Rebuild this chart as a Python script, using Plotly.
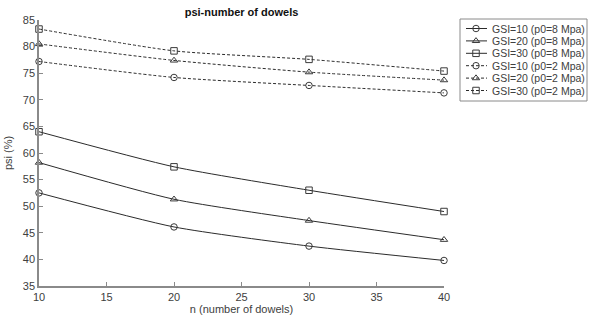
import plotly.graph_objects as go

# Number of dowels
n_dowels = [10, 20, 30, 40]

# psi (%) for each GSI at p0 = 8 MPa
psi_gsi10_p8 = [52.5, 46.1, 42.5, 39.8]
psi_gsi20_p8 = [58.2, 51.3, 47.3, 43.7]
psi_gsi30_p8 = [64.0, 57.4, 53.0, 49.0]

# psi (%) for each GSI at p0 = 2 MPa
psi_gsi10_p2 = [77.2, 74.2, 72.7, 71.3]
psi_gsi20_p2 = [80.5, 77.4, 75.2, 73.7]
psi_gsi30_p2 = [83.3, 79.2, 77.6, 75.4]

x_ticks = [10, 15, 20, 25, 30, 35, 40]
y_ticks = [35, 40, 45, 50, 55, 60, 65, 70, 75, 80, 85]

series_names = [
    "GSI=10 (p0=8 Mpa)", "GSI=20 (p0=8 Mpa)", "GSI=30 (p0=8 Mpa)",
    "GSI=10 (p0=2 Mpa)", "GSI=20 (p0=2 Mpa)", "GSI=30 (p0=2 Mpa)",
]
series_values = [psi_gsi10_p8, psi_gsi20_p8, psi_gsi30_p8,
                 psi_gsi10_p2, psi_gsi20_p2, psi_gsi30_p2]
series_symbols = ["circle-open", "triangle-up-open", "square-open"] * 2
series_dashes = ["solid"] * 3 + ["3px,2px"] * 3

font_family = "Liberation Sans, Arial, sans-serif"
axis_grey = "#8a8a8a"
text_grey = "#404040"
line_col = "#2b2b2b"
marker_col = "#3a3a3a"

W, H = 589, 322
L, R, T, B = 39, 0, 17, 36
plot_w = W - L - R
plot_h = H - T - B


def xdom(px):
    return (px - L) / plot_w


def ydom(py):
    return (H - B - py) / plot_h


fig = go.Figure()
for name, values, symbol, dash in zip(series_names, series_values, series_symbols, series_dashes):
    fig.add_trace(go.Scatter(
        x=n_dowels, y=values, name=name,
        mode="lines+markers",
        line=dict(color=line_col, width=1, dash=dash, shape="spline", smoothing=0.6),
        marker=dict(symbol=symbol, size=6.5, color=marker_col, line=dict(width=1)),
        cliponaxis=False, showlegend=False,
    ))

# Legend panel drawn on its own hidden axes (pixel units inside the panel)
box_x0, box_x1, box_y0, box_y1 = 460, 587, 19, 101
row_y0, row_step = 28.5, 12.4
for i, (name, symbol, dash) in enumerate(zip(series_names, series_symbols, series_dashes)):
    ry = row_y0 + i * row_step
    fig.add_trace(go.Scatter(
        x=[466, 476, 487], y=[ry, ry, ry],
        xaxis="x2", yaxis="y2", mode="lines+markers",
        line=dict(color=line_col, width=1, dash=dash),
        marker=dict(symbol=symbol, size=6.5, color=marker_col, line=dict(width=1),
                    opacity=[0, 1, 0]),
        showlegend=False, hoverinfo="skip", cliponaxis=False,
    ))
    fig.add_annotation(
        x=489.5, y=ry, xref="x2", yref="y2", text=name, showarrow=False,
        xanchor="left", yanchor="middle",
        font=dict(family=font_family, size=10.5, color=text_grey),
    )

fig.add_shape(
    type="rect", xref="paper", yref="paper",
    x0=xdom(box_x0), x1=xdom(box_x1), y0=ydom(box_y1), y1=ydom(box_y0),
    line=dict(color="#8a8a8a", width=1), fillcolor="rgba(0,0,0,0)", layer="below",
)

fig.update_layout(
    width=W, height=H,
    margin=dict(l=L, r=R, t=T, b=B, autoexpand=False),
    paper_bgcolor="white", plot_bgcolor="white",
    font=dict(family=font_family, size=11, color=text_grey),
    title=dict(
        text="<b>psi-number of dowels</b>",
        x=(39 + 444) / 2 / W, xanchor="center",
        y=1 - 12 / H, yanchor="middle",
        font=dict(size=11, color="#111111"),
    ),
    showlegend=False,
    xaxis=dict(
        domain=[0, xdom(444)], anchor="y",
        range=[10, 40], tickvals=x_ticks,
        showgrid=False, zeroline=False,
        showline=True, linecolor=axis_grey, linewidth=1.5,
        ticks="inside", ticklen=4, tickcolor=axis_grey,
        tickfont=dict(size=11, color=text_grey),
        title=dict(text="n (number of dowels)", standoff=2,
                   font=dict(size=11, color=text_grey)),
    ),
    yaxis=dict(
        domain=[0, ydom(20)], anchor="x",
        range=[35, 85], tickvals=y_ticks,
        showgrid=False, zeroline=False,
        showline=True, linecolor=axis_grey, linewidth=1.5,
        ticks="inside", ticklen=4, tickcolor=axis_grey,
        tickfont=dict(size=11, color=text_grey),
        title=dict(text="psi (%)", standoff=8,
                   font=dict(size=11, color=text_grey)),
    ),
    xaxis2=dict(domain=[xdom(455), 1], range=[455, 589], visible=False,
                fixedrange=True, anchor="y2"),
    yaxis2=dict(domain=[ydom(105), 1], range=[105, 17], visible=False,
                fixedrange=True, anchor="x2"),
)

fig.write_html("out.html")
